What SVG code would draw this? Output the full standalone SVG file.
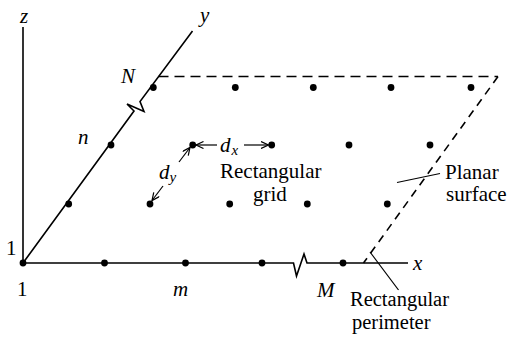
<svg xmlns="http://www.w3.org/2000/svg" width="507" height="337" viewBox="0 0 507 337">
<style>
.ax{fill:none;stroke:#000;stroke-width:1.6;stroke-linejoin:miter}
.dash{fill:none;stroke:#000;stroke-width:1.6;stroke-dasharray:10,6}
.ld{fill:none;stroke:#000;stroke-width:1.2}
.arr{fill:none;stroke:#000;stroke-width:1.2;marker-end:url(#ah)}
.dot{fill:#000}
text{font-family:"Liberation Serif","Times New Roman",serif;font-size:21px;fill:#000}
.it{font-style:italic}
.sub{font-size:15px;font-style:italic}
</style>
<defs>
<marker id="ah" markerUnits="userSpaceOnUse" markerWidth="10" markerHeight="8" refX="8" refY="4" orient="auto">
<path d="M0.5,0.5 L8,4 L0.5,7.5" fill="none" stroke="#000" stroke-width="1.2"/>
</marker>
</defs>
<g id="connectors">
<line class="ax" x1="23" y1="263" x2="23" y2="27"/>
<path class="ax" d="M23,263 L293.5,263 L296.5,276 L304,254 L307,263 L408,263"/>
<path class="ax" d="M23,263 L134,111 L127,104 L144,111.5 L140,101.5 L192.5,31"/>
<path class="dash" d="M158.5,76.5 L498,76.5"/>
<path class="dash" d="M498,76.5 L363.5,263" style="stroke-dasharray:8,6"/>
<line class="ld" x1="397" y1="182.5" x2="440" y2="173.5"/>
<line class="ld" x1="370" y1="252" x2="398.5" y2="290"/>
<line class="arr" x1="217" y1="145" x2="196" y2="145"/>
<line class="arr" x1="244" y1="145" x2="268.5" y2="145"/>
<line class="arr" x1="179" y1="162" x2="190" y2="147.5"/>
<line class="arr" x1="163" y1="186" x2="152" y2="200.5"/>
</g>
<g id="axis-labels">
<text class="it" x="20" y="23">z</text>
<text class="it" x="200" y="22">y</text>
<text class="it" x="413" y="270">x</text>
<text x="6" y="255">1</text>
<text x="17" y="296">1</text>
<text class="it" x="173" y="296">m</text>
<text class="it" x="317" y="297">M</text>
<text class="it" x="121" y="83">N</text>
<text class="it" x="78" y="144">n</text>
</g>
<g id="grid-points">
<circle class="dot" cx="23" cy="263" r="3.4"/>
<circle class="dot" cx="104.5" cy="263" r="3.4"/>
<circle class="dot" cx="185.5" cy="263" r="3.4"/>
<circle class="dot" cx="262" cy="263" r="3.4"/>
<circle class="dot" cx="343" cy="263" r="3.4"/>
<circle class="dot" cx="68.7" cy="204" r="3.4"/>
<circle class="dot" cx="150" cy="204" r="3.4"/>
<circle class="dot" cx="229.7" cy="204" r="3.4"/>
<circle class="dot" cx="307.3" cy="204" r="3.4"/>
<circle class="dot" cx="387.3" cy="204" r="3.4"/>
<circle class="dot" cx="111" cy="145" r="3.4"/>
<circle class="dot" cx="192.7" cy="145" r="3.4"/>
<circle class="dot" cx="271.7" cy="145" r="3.4"/>
<circle class="dot" cx="349" cy="145" r="3.4"/>
<circle class="dot" cx="430" cy="145" r="3.4"/>
<circle class="dot" cx="153.3" cy="87.5" r="3.4"/>
<circle class="dot" cx="235.3" cy="87.5" r="3.4"/>
<circle class="dot" cx="313.3" cy="87.5" r="3.4"/>
<circle class="dot" cx="391" cy="87.5" r="3.4"/>
<circle class="dot" cx="471" cy="87.5" r="3.4"/>
</g>
<g id="spacing-labels">
<text class="it" x="220" y="152">d<tspan class="sub" dx="1" dy="3">x</tspan></text>
<text class="it" x="159" y="179">d<tspan class="sub" dx="0" dy="3">y</tspan></text>
</g>
<g id="grid-label">
<text x="220" y="178">Rectangular</text>
<text x="253" y="201">grid</text>
</g>
<g id="surface-label">
<text x="445" y="179">Planar</text>
<text x="446" y="201">surface</text>
</g>
<g id="perimeter-label">
<text x="350" y="306" style="font-size:20.5px">Rectangular</text>
<text x="352" y="329" style="font-size:20.5px">perimeter</text>
</g>
</svg>
